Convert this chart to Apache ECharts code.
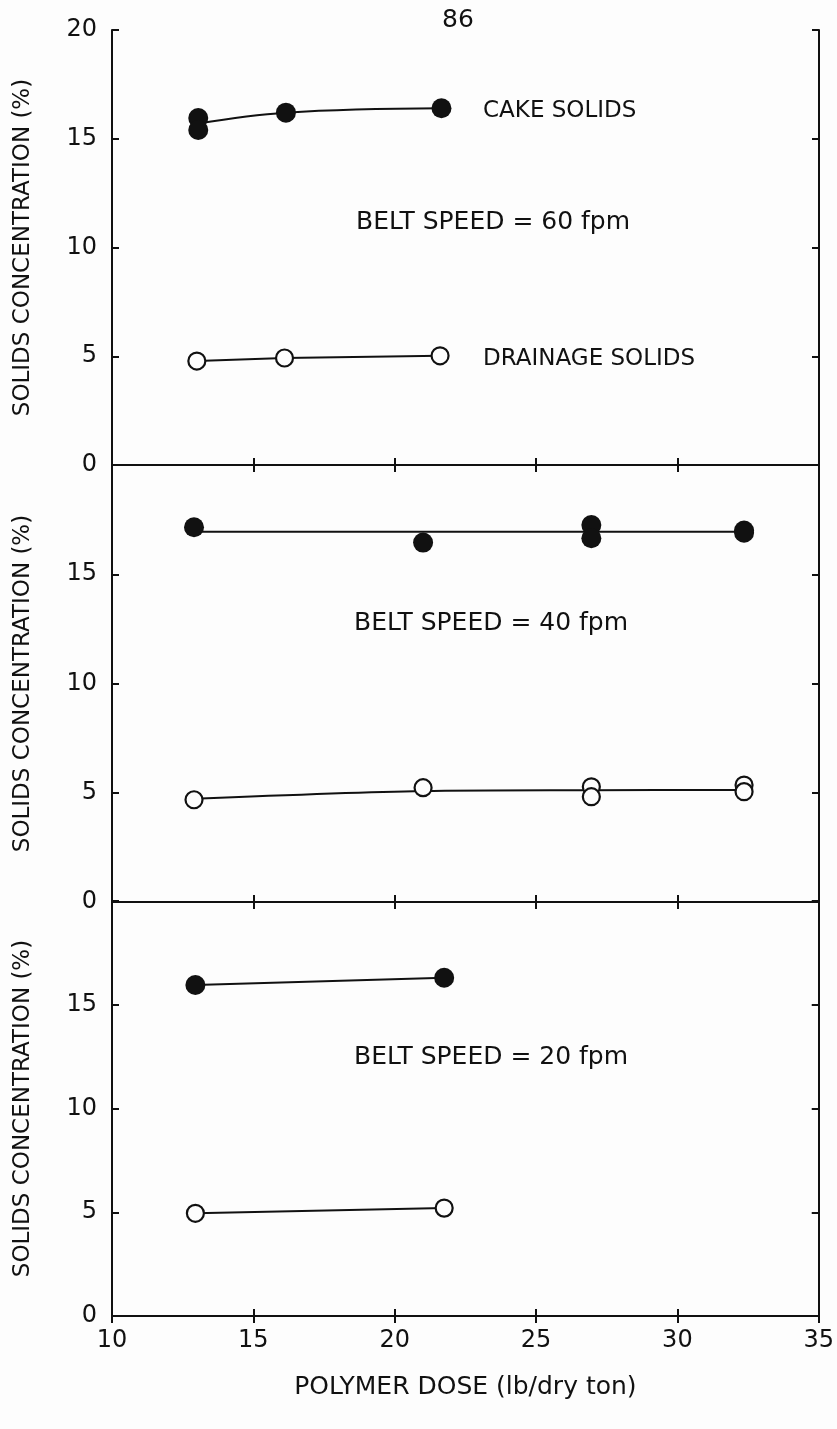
<!DOCTYPE html>
<html lang="en">
  <head>
    <meta charset="UTF-8" />
    <title>Solids concentration vs polymer dose</title>
    <script src="https://cdn.jsdelivr.net/npm/echarts@6/dist/echarts.min.js"></script>
    <style>
      html, body { margin: 0; padding: 0; background: #fdfdfd; }
      #chart { width: 837px; height: 1429px; }
    </style>
  </head>
  <body>
    <div id="chart"></div>
    <script>
      // polymer dose (lb/dry ton) and solids concentration (%)
      // belt speed 60 fpm
      var cake60 = [[13.05, 15.95], [13.05, 15.4], [16.15, 16.2], [21.65, 16.4]];
      var cakeFit60 = [[13.05, 15.7], [16.15, 16.2], [21.65, 16.4]];
      var drain60 = [[13.0, 4.78], [16.1, 4.92], [21.6, 5.02]];
      var drainFit60 = [[13.0, 4.78], [16.1, 4.92], [21.6, 5.02]];

      // belt speed 40 fpm
      var cake40 = [[12.9, 17.15], [21.0, 16.45], [26.95, 17.25], [26.95, 16.65], [32.35, 17.0], [32.35, 16.9]];
      var cakeFit40 = [[12.9, 16.95], [32.35, 16.95]];
      var drain40 = [[12.9, 4.68], [21.0, 5.23], [26.95, 5.27], [26.95, 4.82], [32.35, 5.35], [32.35, 5.05]];
      var drainFit40 = [[12.9, 4.72], [21.0, 5.08], [26.95, 5.12], [32.35, 5.13]];

      // belt speed 20 fpm
      var cake20 = [[12.95, 15.95], [21.75, 16.3]];
      var drain20 = [[12.95, 4.95], [21.75, 5.2]];

      var ink = "#111111";
      var font = "DejaVu Sans";

      var grids = [
        { left: 112, right: 18, top: 30, height: 435 },
        { left: 112, right: 18, top: 465, height: 437 },
        { left: 112, right: 18, top: 901, height: 415 },
      ];

      var xAxes = [];
      var yAxes = [];
      grids.forEach(function (g, i) {
        var last = i === grids.length - 1;
        ["bottom", "top"].forEach(function (pos) {
          xAxes.push({
            type: "value",
            gridIndex: i,
            position: pos,
            min: 10,
            max: 35,
            interval: 5,
            name: last && pos === "bottom" ? "POLYMER DOSE (lb/dry ton)" : "",
            nameLocation: "middle",
            nameGap: 59,
            nameTextStyle: { color: ink, fontSize: 25, fontFamily: font },
            axisLine: { lineStyle: { color: ink, width: 2 } },
            axisTick: { inside: true, length: 7, lineStyle: { color: ink, width: 2 } },
            axisLabel: {
              show: last && pos === "bottom",
              color: ink,
              fontSize: 24,
              fontFamily: font,
              margin: 13,
            },
            splitLine: { show: false },
          });
        });
        ["left", "right"].forEach(function (pos) {
          yAxes.push({
            type: "value",
            gridIndex: i,
            position: pos,
            min: 0,
            max: 20,
            interval: 5,
            name: pos === "left" ? "SOLIDS CONCENTRATION (%)" : "",
            nameLocation: "middle",
            nameRotate: 90,
            nameGap: 77,
            nameTextStyle: { color: ink, fontSize: 23, fontFamily: font },
            axisLine: { lineStyle: { color: ink, width: 2 } },
            axisTick: { inside: true, length: 7, lineStyle: { color: ink, width: 2 } },
            axisLabel: {
              show: pos === "left",
              color: ink,
              fontSize: 24,
              fontFamily: font,
              margin: 15,
              formatter: function (v) {
                if (v === 20 && i > 0) return "";
                return String(v);
              },
            },
            splitLine: { show: false },
          });
        });
      });

      function dots(data, panel, filled) {
        return {
          type: "scatter",
          xAxisIndex: panel * 2,
          yAxisIndex: panel * 2,
          data: data,
          symbol: "circle",
          symbolSize: filled ? 20 : 17,
          itemStyle: filled
            ? { color: ink, opacity: 1 }
            : { color: "#fdfdfd", borderColor: ink, borderWidth: 2.2, opacity: 1 },
          z: 3,
        };
      }

      function fit(data, panel, smooth) {
        return {
          type: "line",
          xAxisIndex: panel * 2,
          yAxisIndex: panel * 2,
          data: data,
          showSymbol: false,
          smooth: smooth || false,
          lineStyle: { color: ink, width: 2 },
          z: 2,
        };
      }

      function note(text, left, top, size) {
        return {
          type: "text",
          left: left,
          top: top,
          style: { text: text, fill: ink, fontSize: size || 23, fontFamily: font },
        };
      }

      var chart = echarts.init(document.getElementById("chart"));
      var option = {
        backgroundColor: "#fdfdfd",
        animation: false,
        grid: grids,
        xAxis: xAxes,
        yAxis: yAxes,
        series: [
          fit(cakeFit60, 0, 0.4),
          dots(cake60, 0, true),
          fit(drainFit60, 0),
          dots(drain60, 0, false),
          fit(cakeFit40, 1),
          dots(cake40, 1, true),
          fit(drainFit40, 1, 0.3),
          dots(drain40, 1, false),
          fit(cake20, 2),
          dots(cake20, 2, true),
          fit(drain20, 2),
          dots(drain20, 2, false),
        ],
        graphic: [
          note("86", 442, 8, 25),
          note("CAKE SOLIDS", 483, 100),
          note("BELT SPEED = 60 fpm", 356, 210, 25),
          note("DRAINAGE SOLIDS", 483, 348),
          note("BELT SPEED = 40 fpm", 354, 611, 25),
          note("BELT SPEED = 20 fpm", 354, 1045, 25),
        ],
      };
      option && chart.setOption(option);
    </script>
  </body>
</html>
